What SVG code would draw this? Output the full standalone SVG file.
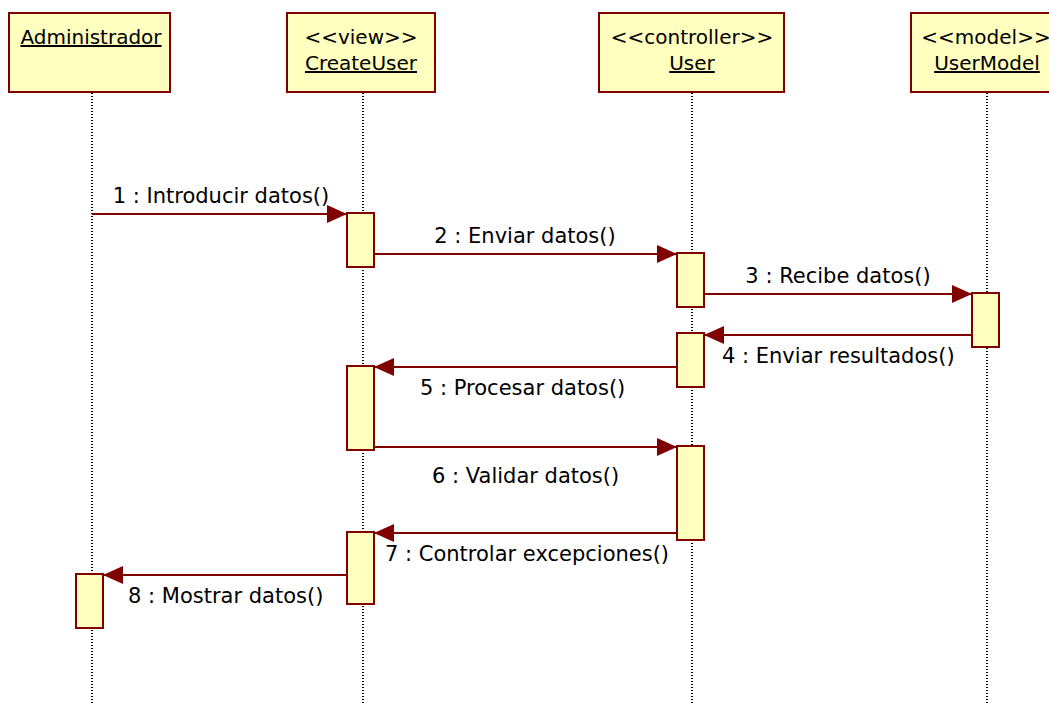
<svg xmlns="http://www.w3.org/2000/svg" width="1049" height="704" viewBox="0 0 1049 704">
  <style>
    .obj { fill: #ffffc0; stroke: #800000; stroke-width: 2; }
    .act { fill: #ffffc0; stroke: #800000; stroke-width: 2; }
    .life { stroke: #000; stroke-width: 2; stroke-dasharray: 1 2; fill: none; }
    .msg { stroke: #800000; stroke-width: 2; fill: none; marker-end: url(#head); }
    text { font-family: "DejaVu Sans", Verdana, sans-serif; font-size: 21px; fill: #000; }
    .hd { font-size: 20px; }
    .c { text-anchor: middle; }
    .u { text-decoration: underline; }
  </style>
  <defs>
    <marker id="head" viewBox="0 0 20 18" refX="20" refY="9" markerWidth="20" markerHeight="18" markerUnits="userSpaceOnUse" orient="auto">
      <path d="M0,0 L20,9 L0,18 Z" fill="#800000"/>
    </marker>
  </defs>

  <!-- lifelines -->
  <g id="lifelines">
    <line class="life" x1="92" y1="93" x2="92" y2="704"/>
    <line class="life" x1="363" y1="93" x2="363" y2="704"/>
    <line class="life" x1="692" y1="93" x2="692" y2="704"/>
    <line class="life" x1="987" y1="93" x2="987" y2="704"/>
  </g>

  <g id="administrador">
    <rect class="obj" x="9" y="13" width="161" height="79"/>
    <text class="hd c u" x="91" y="44">Administrador</text>
    <rect class="act" x="76" y="574" width="27" height="54"/>
  </g>

  <g id="createuser">
    <rect class="obj" x="287" y="13" width="148" height="79"/>
    <text class="hd c" x="361" y="44">&lt;&lt;view&gt;&gt;</text>
    <text class="hd c u" x="361" y="70">CreateUser</text>
    <rect class="act" x="347" y="213" width="27" height="54"/>
    <rect class="act" x="347" y="366" width="27" height="84"/>
    <rect class="act" x="347" y="532" width="27" height="72"/>
  </g>

  <g id="user">
    <rect class="obj" x="599" y="13" width="185" height="79"/>
    <text class="hd c" x="692" y="44">&lt;&lt;controller&gt;&gt;</text>
    <text class="hd c u" x="692" y="70">User</text>
    <rect class="act" x="677" y="253" width="27" height="54"/>
    <rect class="act" x="677" y="333" width="27" height="54"/>
    <rect class="act" x="677" y="446" width="27" height="94"/>
  </g>

  <g id="usermodel">
    <rect class="obj" x="911" y="13" width="160" height="79"/>
    <text class="hd c" x="986" y="44">&lt;&lt;model&gt;&gt;</text>
    <text class="hd c u" x="987" y="70">UserModel</text>
    <rect class="act" x="972" y="293" width="27" height="54"/>
  </g>

  <!-- messages -->
  <g id="messages">
    <line class="msg" x1="92" y1="214" x2="347" y2="214"/>
    <text class="c" x="221" y="203">1 : Introducir datos()</text>
    <line class="msg" x1="374" y1="254" x2="677" y2="254"/>
    <text class="c" x="525" y="243">2 : Enviar datos()</text>
    <line class="msg" x1="704" y1="294" x2="972" y2="294"/>
    <text class="c" x="838" y="283">3 : Recibe datos()</text>
    <line class="msg" x1="972" y1="335" x2="704" y2="335"/>
    <text x="722" y="363">4 : Enviar resultados()</text>
    <line class="msg" x1="677" y1="367" x2="374" y2="367"/>
    <text x="420" y="395">5 : Procesar datos()</text>
    <line class="msg" x1="374" y1="447" x2="677" y2="447"/>
    <text x="432" y="483">6 : Validar datos()</text>
    <line class="msg" x1="677" y1="533" x2="374" y2="533"/>
    <text x="385" y="561">7 : Controlar excepciones()</text>
    <line class="msg" x1="347" y1="575" x2="103" y2="575"/>
    <text x="128" y="603">8 : Mostrar datos()</text>
  </g>
</svg>
